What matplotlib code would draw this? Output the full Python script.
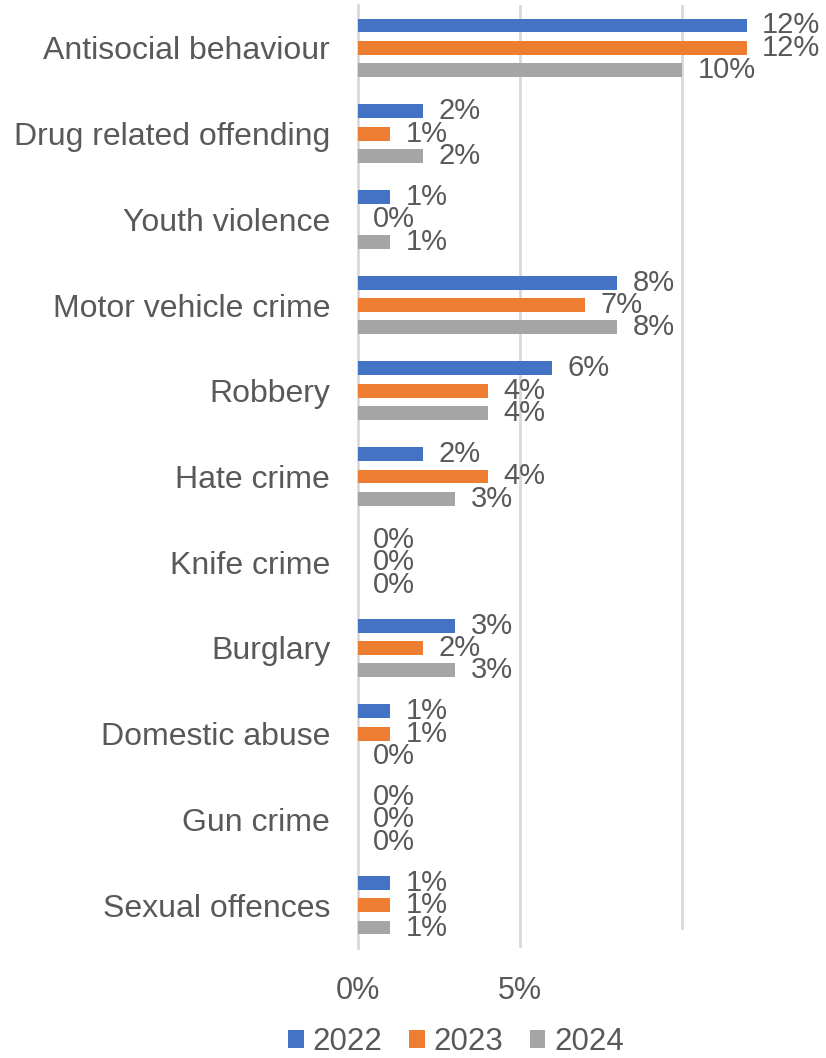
import matplotlib
matplotlib.use("Agg")
import matplotlib.pyplot as plt
import numpy as np

categories = [
    "Antisocial behaviour",
    "Drug related offending",
    "Youth violence",
    "Motor vehicle crime",
    "Robbery",
    "Hate crime",
    "Knife crime",
    "Burglary",
    "Domestic abuse",
    "Gun crime",
    "Sexual offences",
]
years = ["2022", "2023", "2024"]
values_2022 = [12, 2, 1, 8, 6, 2, 0, 3, 1, 0, 1]
values_2023 = [12, 1, 0, 7, 4, 4, 0, 2, 1, 0, 1]
values_2024 = [10, 2, 1, 8, 4, 3, 0, 3, 0, 0, 1]
series = [values_2022, values_2023, values_2024]
colors = ["#4472C4", "#ED7D31", "#A5A5A5"]
xticks = [0, 5]

plt.rcParams["font.family"] = ["Liberation Sans", "DejaVu Sans"]
text_color = "#595959"
grid_color = "#D9D9D9"

W, H = 826, 1058
fig = plt.figure(figsize=(W / 100, H / 100), dpi=100)
left_px, right_px, top_px, bottom_px = 358, 826, 5, 948
ax = fig.add_axes([left_px / W, 1 - bottom_px / H,
                   (right_px - left_px) / W, (bottom_px - top_px) / H])

x_per_pct = 32.4
ax.set_xlim(0, (right_px - left_px) / x_per_pct)
n = len(categories)
ax.set_ylim(n - 0.5, -0.5)

y = np.arange(n)
slot = 0.261
bar_h = 0.163
for k, (vals, col, yr) in enumerate(zip(series, colors, years)):
    pos = y + (k - 1) * slot
    ax.barh(pos, vals, height=bar_h, color=col, label=yr,
            linewidth=0, zorder=3)
    for p, v in zip(pos, vals):
        ax.annotate(f"{v}%", xy=(v, p), xytext=(11, 0),
                    textcoords="offset points", va="center", ha="left",
                    fontsize=21, color=text_color, zorder=4)

# vertical gridlines
ax.axvline(5, color=grid_color, lw=2, zorder=1)
ax.axvline(10, ymin=20 / (bottom_px - top_px), color=grid_color, lw=2, zorder=1)

for s in ["top", "right", "bottom"]:
    ax.spines[s].set_visible(False)
ax.spines["left"].set_color(grid_color)
ax.spines["left"].set_linewidth(2)
ax.spines["left"].set_zorder(2)

ax.set_yticks(y)
ax.set_yticklabels(categories, fontsize=23, color=text_color)
ax.tick_params(axis="y", length=0, pad=20)

ax.set_xticks(xticks)
ax.set_xticklabels([f"{t}%" for t in xticks], fontsize=22, color=text_color)
ax.tick_params(axis="x", length=0, pad=20)

handles, labels = ax.get_legend_handles_labels()
leg = fig.legend(handles, labels, loc="center", ncol=3,
                 bbox_to_anchor=(456 / W, 1 - 1042 / H), frameon=False,
                 fontsize=22.5, handlelength=0.5, handleheight=0.5,
                 handletextpad=0.28, columnspacing=0.85, borderaxespad=0)
for t in leg.get_texts():
    t.set_color(text_color)

fig.savefig("out.png", dpi=100)
